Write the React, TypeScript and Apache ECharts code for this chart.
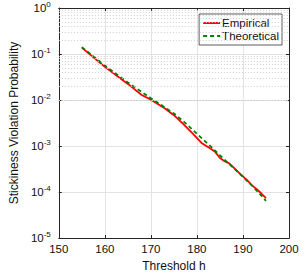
import React, { useEffect, useRef } from "react";
import * as echarts from "echarts";

const thresholds = [155, 160, 165, 168, 170, 173, 175, 177, 179, 181, 183, 184, 185, 186, 187, 188, 189, 190, 191, 192, 193, 194, 195];
const empirical = [0.138, 0.0525, 0.0224, 0.0129, 0.0102, 0.0066, 0.00468, 0.00302, 0.00191, 0.00117, 0.00087, 0.00074, 0.00055, 0.00047, 0.00042, 0.00034, 0.00027, 0.00022, 0.000178, 0.000138, 0.000115, 0.000093, 0.000074];

const thrTheory = [155, 160, 165, 170, 175, 177, 180, 183, 185, 188, 190, 192, 195];
const theoretical = [0.141, 0.0562, 0.024, 0.011, 0.0051, 0.0035, 0.00185, 0.00098, 0.00063, 0.00033, 0.000214, 0.000138, 0.0000646];

const decades = [-5, -4, -3, -2, -1];
const minorMultipliers = [2, 3, 4, 5, 6, 7, 8, 9];

const FONT = "Liberation Sans, Arial, Helvetica, sans-serif";
const AXIS = "#262626";

export default function App() {
  const ref = useRef<HTMLDivElement>(null);
  useEffect(() => {
    if (!ref.current) return;
    const chart = echarts.init(ref.current, null, { renderer: "svg" });
    const minorLines: any[] = [];
    decades.forEach((d) => minorMultipliers.forEach((m) => minorLines.push({ yAxis: m * Math.pow(10, d) })));
    const fmtLog = (v: number) => {
      const e = Math.round(Math.log10(v));
      return `{b|10}{s|${e}}`;
    };
    const grid = { left: 47, right: 16, top: 8, bottom: 34 };
    chart.setOption({
      animation: false,
      backgroundColor: "#ffffff",
      textStyle: { fontFamily: FONT },
      grid,
      legend: {
        orient: "vertical",
        right: 23,
        top: 14,
        backgroundColor: "#ffffff",
        borderColor: "#333",
        borderWidth: 0.8,
        borderRadius: 0,
        padding: [3, 3, 3, 3],
        itemGap: 1,
        itemWidth: 17,
        itemHeight: 12,
        itemStyle: { opacity: 0 },
        textStyle: { fontFamily: FONT, fontSize: 11.5, color: "#111", padding: [0, 0, 0, -3] },
        data: ["Empirical", "Theoretical"],
      },
      xAxis: [
        {
          type: "value",
          min: 150,
          max: 200,
          interval: 10,
          name: "Threshold h",
          nameLocation: "middle",
          nameGap: 17,
          nameTextStyle: { fontFamily: FONT, fontSize: 12, color: "#111" },
          axisLine: { show: true, lineStyle: { color: AXIS, width: 1 } },
          axisTick: { show: true, inside: true, length: 3, lineStyle: { color: AXIS } },
          axisLabel: { fontFamily: FONT, fontSize: 11.5, color: "#111", margin: 5 },
          splitLine: { show: true, lineStyle: { color: "#e3e3e3", width: 1 } },
        },
        {
          type: "value",
          position: "top",
          min: 150,
          max: 200,
          interval: 10,
          axisLine: { show: true, lineStyle: { color: AXIS, width: 1 } },
          axisTick: { show: true, inside: true, length: 3, lineStyle: { color: AXIS } },
          axisLabel: { show: false },
          splitLine: { show: false },
        },
      ],
      yAxis: [
        {
          type: "log",
          logBase: 10,
          min: 1e-5,
          max: 1,
          name: "Stickiness Violation Probability",
          nameLocation: "middle",
          nameGap: 27,
          nameTextStyle: { fontFamily: FONT, fontSize: 12, color: "#111" },
          axisLine: { show: true, lineStyle: { color: AXIS, width: 1 } },
          axisTick: { show: true, inside: true, length: 3, lineStyle: { color: AXIS } },
          axisLabel: {
            formatter: fmtLog,
            margin: 8,
            color: "#111",
            rich: {
              b: { fontFamily: FONT, fontSize: 11.5, color: "#111" },
              s: { fontFamily: FONT, fontSize: 8, color: "#111", padding: [0, 0, 7, 0] },
            },
          },
          splitLine: { show: true, lineStyle: { color: "#e3e3e3", width: 1 } },
        },
        {
          type: "log",
          logBase: 10,
          min: 1e-5,
          max: 1,
          position: "right",
          axisLine: { show: true, lineStyle: { color: AXIS, width: 1 } },
          axisTick: { show: true, inside: true, length: 3, lineStyle: { color: AXIS } },
          axisLabel: { show: false },
          splitLine: { show: false },
        },
      ],
      series: [
        {
          name: "minor",
          type: "line",
          data: [],
          silent: true,
          markLine: {
            silent: true,
            symbol: "none",
            label: { show: false },
            lineStyle: { type: [1, 2], color: "#cfcfcf", width: 1 },
            data: minorLines,
          },
        },
        {
          name: "Empirical",
          type: "line",
          data: thresholds.map((x, i) => [x, empirical[i]]),
          showSymbol: false,
          symbol: "none",
          lineStyle: { color: "#ff0000", width: 1.8 },
          itemStyle: { color: "#ff0000" },
          z: 3,
        },
        {
          name: "Theoretical",
          type: "line",
          data: thrTheory.map((x, i) => [x, theoretical[i]]),
          showSymbol: false,
          symbol: "none",
          lineStyle: { color: "#008000", width: 1.8, type: [4, 3] },
          itemStyle: { color: "#008000" },
          z: 4,
        },
      ],
    });
    return () => chart.dispose();
  }, []);
  return (
    <div
      ref={ref}
      style={{ position: "fixed", left: 0, top: 0, width: 305, height: 277 }}
    />
  );
}
